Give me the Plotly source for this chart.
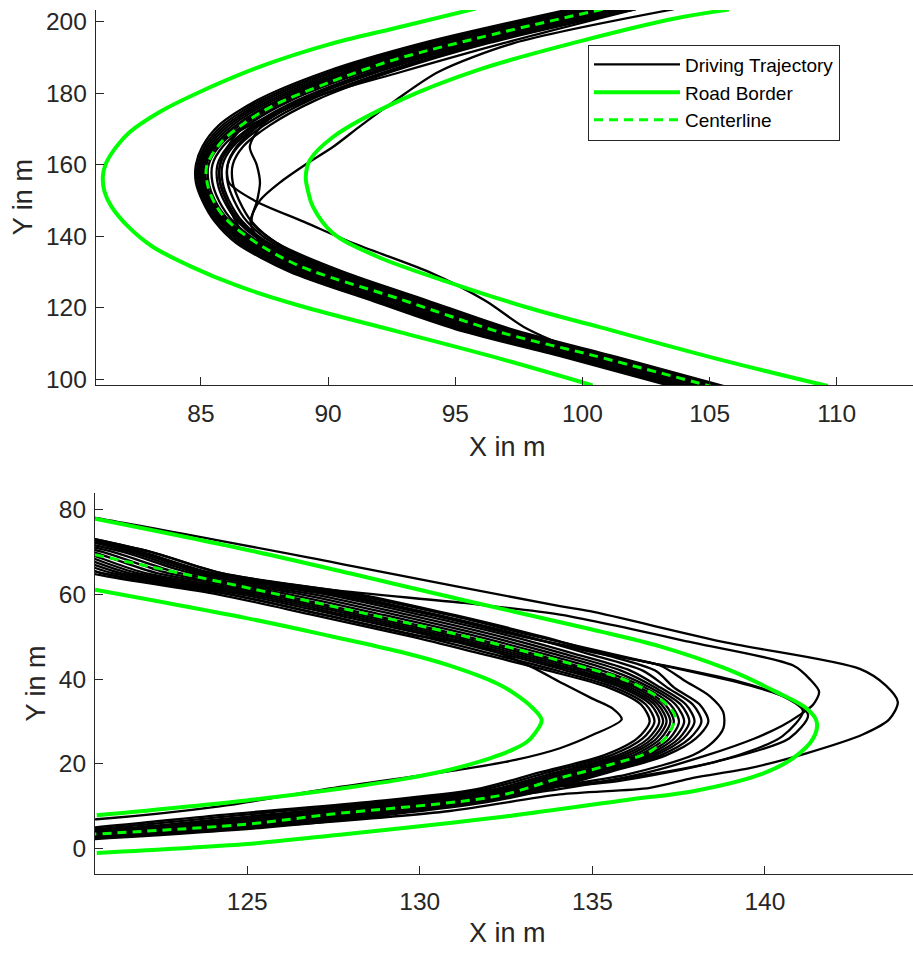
import plotly.graph_objects as go

# ---------------- TOP PANEL DATA ----------------
top_outer_x = [95.80, 92.62, 90.0, 87.38, 84.76, 83.39, 82.19, 81.66, 81.26, 81.14, 81.21, 81.48, 82.13, 83.07, 84.57, 86.45, 88.89, 92.82, 96.75, 100.4]
top_outer_y = [203.66, 198.19, 193.59, 187.57, 179.72, 174.81, 169.07, 164.91, 160.3, 156.58, 152.34, 148.26, 142.72, 137.17, 131.62, 126.07, 120.52, 113.15, 105.74, 98.25]

top_inner_x = [105.76, 103.69, 99.89, 95.96, 92.82, 90.18, 89.28, 89.12, 89.22, 89.40, 90.18, 91.90, 94.78, 98.04, 100.68, 105.26, 109.65]
top_inner_y = [203.38, 200.97, 194.51, 186.66, 177.98, 167.68, 161.22, 156.58, 152.34, 148.26, 140.89, 134.39, 127.02, 119.61, 114.53, 105.74, 98.06]

top_center_x = [100.8, 96.75, 92.62, 90.0, 87.84, 86.66, 85.74, 85.22, 85.28, 85.61, 86.14, 87.19, 88.89, 92.82, 96.75, 100.41, 105.1]
top_center_y = [203.5, 196.9, 189.4, 182.9, 176.5, 171.4, 165.85, 159.4, 153.8, 148.3, 143.7, 138.1, 131.6, 122.4, 113.15, 106.65, 97.9]

# trajectories sampled at common Y stations (X value of each run at each station)
top_station_y = [98, 106, 114, 122, 130, 138, 144, 150, 155, 160, 165, 171, 178, 186, 194, 203.5]
top_traj_x = [
    [103.5, 99.35, 95.0, 91.7, 88.5, 86.4, 85.55, 85.05, 84.8, 84.8, 85.05, 85.7, 87.2, 89.9, 93.7, 99.5],
    [103.73, 99.56, 95.21, 91.9, 88.67, 86.52, 85.63, 85.12, 84.87, 84.87, 85.14, 85.84, 87.37, 90.1, 93.9, 99.7],
    [103.95, 99.77, 95.42, 92.09, 88.83, 86.64, 85.72, 85.19, 84.94, 84.94, 85.23, 85.97, 87.53, 90.29, 94.09, 99.89],
    [104.18, 99.98, 95.63, 92.29, 89.0, 86.76, 85.8, 85.25, 85.0, 85.0, 85.32, 86.1, 87.7, 90.49, 94.29, 100.09],
    [104.4, 100.19, 95.84, 92.48, 89.16, 86.88, 85.88, 85.32, 85.07, 85.07, 85.41, 86.24, 87.86, 90.68, 94.48, 100.28],
    [104.63, 100.4, 96.05, 92.68, 89.33, 87.0, 85.96, 85.39, 85.14, 85.14, 85.5, 86.38, 88.03, 90.88, 94.68, 100.48],
    [104.85, 100.61, 96.26, 92.87, 89.49, 87.12, 86.05, 85.46, 85.21, 85.21, 85.59, 86.51, 88.19, 91.07, 94.87, 100.67],
    [105.03, 100.79, 96.44, 93.05, 89.65, 87.24, 86.15, 85.55, 85.3, 85.3, 85.7, 86.66, 88.36, 91.27, 95.07, 100.87],
    [105.12, 100.89, 96.56, 93.18, 89.8, 87.36, 86.28, 85.7, 85.45, 85.45, 85.85, 86.82, 88.54, 91.46, 95.26, 101.06],
    [105.24, 101.03, 96.72, 93.36, 90.0, 87.52, 86.46, 85.9, 85.65, 85.65, 86.05, 87.04, 88.78, 91.72, 95.52, 101.32],
    [105.36, 101.17, 96.88, 93.54, 90.2, 87.68, 86.64, 86.1, 85.85, 85.85, 86.25, 87.26, 89.02, 91.98, 95.78, 101.58],
    [105.48, 101.31, 97.04, 93.72, 90.4, 87.84, 86.82, 86.3, 86.05, 86.05, 86.45, 87.48, 89.26, 92.24, 96.04, 101.84],
    [105.6, 101.45, 97.2, 93.9, 90.6, 88.0, 87.0, 86.5, 86.25, 86.25, 86.65, 87.7, 89.5, 92.5, 96.3, 102.1],
    [103.65, 99.49, 95.14, 91.83, 88.61, 86.96, 86.37, 86.0, 85.75, 85.75, 86.05, 86.71, 88.08, 90.81, 94.61, 100.41],
    [105.42, 101.24, 96.96, 93.63, 90.3, 87.36, 85.94, 85.23, 84.98, 84.98, 85.47, 86.93, 89.14, 92.37, 96.17, 101.97],
    [105.3, 101.1, 96.9, 93.5, 90.3, 88.0, 87.0, 87.21, 87.32, 87.19, 86.92, 87.4, 88.9, 91.7, 95.5, 101.4],
    [105.18, 100.96, 96.64, 93.27, 89.9, 87.4, 86.95, 87.32, 88.1, 89.1, 90.2, 91.3, 92.65, 94.35, 97.3, 103.6],
    [104.9, 100.6, 97.84, 96.17, 93.96, 91.0, 89.06, 87.09, 86.1, 86.05, 86.4, 87.3, 89.0, 91.9, 95.7, 101.5],
    [105.3, 101.1, 96.8, 93.4, 90.05, 87.6, 86.55, 86.0, 85.75, 85.75, 86.15, 87.15, 89.1, 92.9, 96.9, 102.1],
]

# ---------------- BOTTOM PANEL DATA ----------------
bot_outer_x = [120.59, 124.98, 128.12, 131.16, 134.93, 136.96, 138.89, 140.34, 141.21, 141.50, 141.40, 140.82, 139.85, 137.92, 136.09, 132.23, 127.40, 124.98, 120.64]
bot_outer_y = [77.82, 70.50, 64.66, 58.82, 51.81, 47.72, 42.39, 36.93, 33.05, 29.92, 26.04, 21.37, 17.46, 13.56, 11.62, 7.35, 3.05, 1.11, -0.99]

bot_inner_x = [120.59, 124.98, 127.40, 129.43, 130.87, 132.24, 132.82, 133.25, 133.53, 133.34, 133.10, 132.61, 132.03, 130.87, 129.43, 127.40, 124.98, 120.64]
bot_inner_y = [61.09, 54.38, 50.17, 46.44, 43.17, 38.96, 36.16, 33.35, 30.31, 27.28, 25.17, 23.07, 21.32, 18.63, 16.30, 13.84, 11.39, 7.89]

bot_center_x = [120.59, 128.12, 131.26, 134.06, 135.99, 136.96, 137.39, 137.34, 137.15, 136.67, 135.51, 134.06, 132.23, 127.4, 124.98, 120.59]
bot_center_y = [69.3, 56.0, 50.2, 44.33, 39.66, 35.38, 31.48, 29.15, 26.4, 22.9, 19.8, 16.69, 12.4, 8.12, 5.78, 3.45]

bot_station_y = [2, 5, 8, 11, 14, 18, 22, 26, 30, 34, 38, 42, 46, 50, 55, 60, 65, 70, 75]
bot_traj_x = [
    [114.9, 120.51, 124.28, 128.45, 131.61, 133.47, 135.33, 136.3, 136.66, 136.41, 135.47, 133.72, 131.76, 129.76, 126.96, 124.14, 120.45, 118.6, 115.8],
    [115.5, 121.11, 124.88, 128.89, 131.87, 133.71, 135.53, 136.46, 136.8, 136.55, 135.65, 133.98, 132.06, 130.08, 127.3, 124.48, 120.77, 118.92, 116.12],
    [116.1, 121.71, 125.48, 129.33, 132.13, 133.95, 135.73, 136.62, 136.94, 136.69, 135.83, 134.24, 132.36, 130.4, 127.64, 124.82, 121.09, 119.24, 116.44],
    [116.55, 122.16, 125.93, 129.66, 132.33, 134.13, 135.88, 136.74, 137.05, 136.8, 135.97, 134.44, 132.59, 130.64, 127.9, 125.08, 121.33, 119.48, 116.68],
    [117.0, 122.61, 126.38, 129.99, 132.52, 134.31, 136.03, 136.86, 137.15, 136.9, 136.1, 134.63, 132.81, 130.88, 128.15, 125.33, 121.57, 119.72, 116.92],
    [117.45, 123.06, 126.83, 130.32, 132.72, 134.49, 136.18, 136.98, 137.26, 137.0, 136.24, 134.83, 133.04, 131.12, 128.41, 125.59, 121.81, 119.96, 117.16],
    [117.9, 123.51, 127.28, 130.65, 132.91, 134.67, 136.33, 137.1, 137.36, 137.11, 136.37, 135.02, 133.26, 131.36, 128.66, 125.84, 122.05, 120.2, 117.4],
    [118.22, 123.81, 127.55, 130.85, 133.03, 134.79, 136.45, 137.24, 137.51, 137.26, 136.52, 135.29, 133.56, 131.69, 129.02, 126.2, 122.38, 120.5, 117.7],
    [118.53, 124.11, 127.82, 131.04, 133.15, 134.91, 136.57, 137.37, 137.66, 137.41, 136.67, 135.56, 133.86, 132.02, 129.38, 126.56, 122.71, 120.8, 118.0],
    [118.85, 124.41, 128.09, 131.24, 133.27, 135.03, 136.69, 137.51, 137.81, 137.56, 136.82, 135.83, 134.16, 132.35, 129.74, 126.92, 123.04, 121.1, 118.3],
    [119.16, 124.71, 128.36, 131.43, 133.39, 135.15, 136.81, 137.64, 137.96, 137.71, 136.97, 136.1, 134.46, 132.68, 130.1, 127.28, 123.37, 121.4, 118.6],
    [119.58, 125.11, 128.72, 131.69, 133.55, 135.31, 136.97, 137.82, 138.16, 137.91, 137.17, 136.46, 134.86, 133.12, 130.58, 127.76, 123.81, 121.8, 119.0],
    [120.0, 125.51, 129.08, 131.95, 133.71, 135.47, 137.13, 138.0, 138.36, 138.11, 137.37, 136.82, 135.26, 133.56, 131.06, 128.24, 124.25, 122.2, 119.4],
]

# runs that leave the bundle (own sample points)
bot_out1_x = [118.8, 126.0, 130.87, 134.06, 136.67, 137.92, 139.56, 141.2, 142.85, 143.6, 143.85, 143.5, 142.75, 138.89, 134.93, 134.06, 128.12, 127.4, 120.59, 118.9]
bot_out1_y = [1.5, 5.5, 8.9, 12.8, 14.35, 16.7, 19.0, 22.5, 27.0, 30.5, 34.6, 38.5, 42.4, 48.6, 56.0, 57.2, 66.5, 67.7, 78.0, 80.0]
bot_out2_x = [118.5, 125.3, 130.0, 134.0, 136.6, 138.3, 139.7, 140.5, 141.0, 141.4, 141.57, 141.3, 140.82, 137.92, 134.06, 131.26, 127.4, 124.25, 122.2, 119.4]
bot_out2_y = [1.5, 6.0, 10.0, 14.0, 18.0, 22.0, 26.0, 29.0, 31.5, 34.0, 37.0, 40.0, 43.2, 48.6, 55.2, 57.95, 61.1, 65.0, 70.0, 75.0]
bot_out3_x = [117.5, 122.9, 126.6, 130.87, 135.7, 138.6, 140.7, 141.25, 140.8, 139.56, 136.67, 133.4, 130.9, 128.0, 124.0, 121.95, 119.0]
bot_out3_y = [2.0, 5.0, 8.0, 12.8, 15.9, 20.55, 26.0, 31.5, 35.0, 38.5, 43.9, 50.0, 55.0, 60.0, 65.0, 70.0, 76.0]
bot_out4_x = [117.2, 122.7, 126.3, 130.4, 135.4, 138.8, 140.5, 141.1, 140.5, 139.2, 136.3, 133.0, 130.5, 127.7, 123.8, 121.8, 118.8]
bot_out4_y = [2.0, 5.0, 8.0, 12.0, 16.0, 21.0, 26.5, 32.5, 36.0, 39.5, 44.5, 50.0, 55.0, 60.0, 65.0, 70.0, 76.0]
bot_out5_x = [118.8, 124.4, 128.1, 131.2, 133.3, 135.99, 137.92, 138.5, 138.8, 138.79, 138.4, 137.7, 136.96, 135.2, 133.0, 130.4, 127.5, 123.6, 121.6, 118.7]
bot_out5_y = [2.0, 5.0, 8.0, 11.0, 14.0, 17.5, 22.1, 25.2, 28.5, 32.25, 36.0, 39.5, 43.2, 46.0, 50.0, 55.0, 60.0, 65.0, 70.0, 76.0]
bot_out6_x = [118.0, 120.64, 124.2, 127.4, 131.16, 132.8, 134.06, 135.0, 135.85, 135.6, 135.0, 134.16, 133.2, 131.74, 130.1, 127.3, 124.5, 120.8, 118.9, 116.1]
bot_out6_y = [5.8, 6.95, 10.0, 14.2, 18.63, 21.0, 23.7, 26.8, 30.5, 33.0, 35.4, 38.9, 43.0, 47.8, 50.0, 55.0, 60.0, 65.0, 70.0, 76.0]

legend_names = ["Driving Trajectory", "Road Border", "Centerline"]

# ---------------- FIGURE ----------------
W, H = 913, 960
FONT = "Liberation Sans, Arial, Helvetica, sans-serif"
TXT = "#262626"
BLACK = "#000000"
GREEN = "#00ff00"

fig = go.Figure()
first = {"traj": True}


def add_traj(x, y, xa, ya):
    fig.add_trace(go.Scatter(
        x=x, y=y, mode="lines", xaxis=xa, yaxis=ya,
        line=dict(color=BLACK, width=2.3, shape="spline", smoothing=0.8),
        name=legend_names[0], legendgroup="traj",
        showlegend=first["traj"], hoverinfo="skip"))
    first["traj"] = False


for xs in top_traj_x:
    add_traj(xs, top_station_y, "x", "y")
for xs in bot_traj_x:
    add_traj(xs, bot_station_y, "x2", "y2")
for xs, ys in [(bot_out1_x, bot_out1_y), (bot_out2_x, bot_out2_y), (bot_out3_x, bot_out3_y),
               (bot_out4_x, bot_out4_y), (bot_out5_x, bot_out5_y), (bot_out6_x, bot_out6_y)]:
    add_traj(xs, ys, "x2", "y2")

# road borders
border_sets = [(top_outer_x, top_outer_y, "x", "y"), (top_inner_x, top_inner_y, "x", "y"),
               (bot_outer_x, bot_outer_y, "x2", "y2"), (bot_inner_x, bot_inner_y, "x2", "y2")]
for i, (xs, ys, xa, ya) in enumerate(border_sets):
    fig.add_trace(go.Scatter(
        x=xs, y=ys, mode="lines", xaxis=xa, yaxis=ya,
        line=dict(color=GREEN, width=4, shape="spline", smoothing=1.0),
        name=legend_names[1], legendgroup="border", showlegend=(i == 0), hoverinfo="skip"))

# centerlines
for i, (xs, ys, xa, ya) in enumerate([(top_center_x, top_center_y, "x", "y"),
                                      (bot_center_x, bot_center_y, "x2", "y2")]):
    fig.add_trace(go.Scatter(
        x=xs, y=ys, mode="lines", xaxis=xa, yaxis=ya,
        line=dict(color=GREEN, width=3, dash="9px,6px", shape="spline", smoothing=0.9),
        name=legend_names[2], legendgroup="center", showlegend=(i == 0), hoverinfo="skip"))

axis_common = dict(showline=True, linecolor=TXT, linewidth=1, ticks="inside", ticklen=8,
                   tickcolor=TXT, tickwidth=1, showgrid=False, zeroline=False, mirror=False,
                   tickfont=dict(family=FONT, size=24.5, color=TXT))

fig.update_layout(
    width=W, height=H, margin=dict(l=0, r=0, t=0, b=0),
    paper_bgcolor="white", plot_bgcolor="white",
    xaxis=dict(domain=[95.7 / W, 1], range=[80.86, 113.0], anchor="y",
               tickvals=[85, 90, 95, 100, 105, 110], ticklabelstandoff=6, **axis_common),
    yaxis=dict(domain=[1 - 387 / H, 1 - 8 / H], range=[98.25, 203.3], anchor="x",
               tickvals=[100, 120, 140, 160, 180, 200], ticklabelstandoff=3, **axis_common),
    xaxis2=dict(domain=[95 / W, 1], range=[120.59, 144.29], anchor="y2",
                tickvals=[125, 130, 135, 140], ticklabelstandoff=6, **axis_common),
    yaxis2=dict(domain=[1 - 880 / H, 1 - 496 / H], range=[-5.9, 83.8], anchor="x2",
                tickvals=[0, 20, 40, 60, 80], ticklabelstandoff=3, **axis_common),
    showlegend=True,
    legend=dict(x=588 / W, y=1 - 43 / H, xanchor="left", yanchor="top",
                bgcolor="white", bordercolor=TXT, borderwidth=1, itemwidth=86,
                font=dict(family=FONT, size=19, color=BLACK), tracegroupgap=0),
)

title_font = dict(family=FONT, size=27, color=TXT)
for txt, x, y, ang in [("Y in m", 22.5, 197.5, -90), ("X in m", 508, 449.7, 0),
                       ("Y in m", 36, 688, -90), ("X in m", 508, 940, 0)]:
    fig.add_annotation(text=txt, x=x / W, y=1 - y / H, xref="paper", yref="paper",
                       showarrow=False, textangle=ang, font=title_font,
                       xanchor="center", yanchor="middle")

fig.write_html("out.html")
